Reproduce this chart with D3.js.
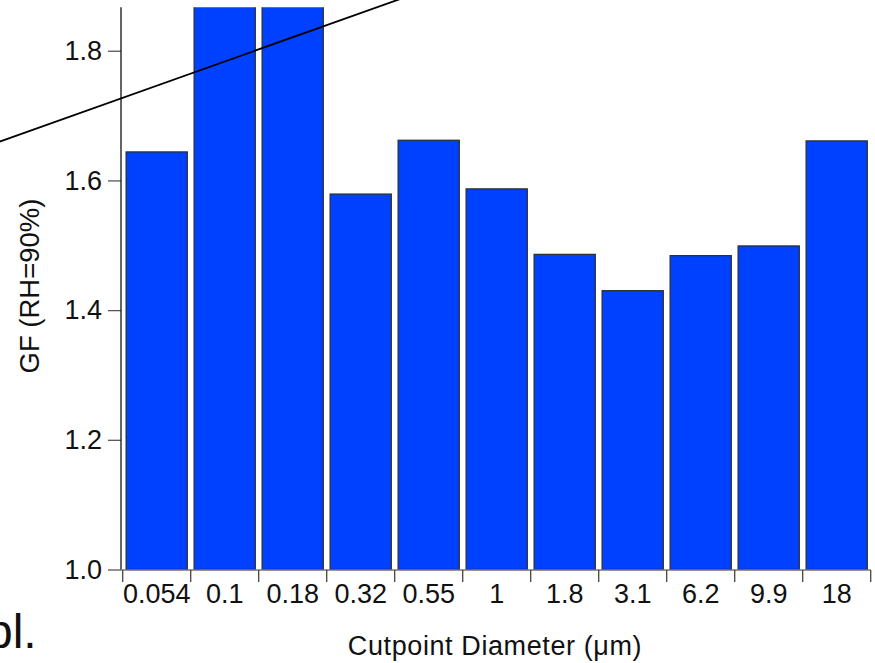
<!DOCTYPE html>
<html>
<head>
<meta charset="utf-8">
<script src="https://cdn.jsdelivr.net/npm/d3@7"></script>
<style>
  html, body { margin: 0; padding: 0; background: #fff; }
  svg { display: block; }
  text { font-family: "Liberation Sans", Arial, sans-serif; fill: #111; }
</style>
</head>
<body>
<svg id="chart" width="875" height="663"></svg>
<script>
// Cutpoint diameters (µm) of the impactor stages
const categories = ["0.054", "0.1", "0.18", "0.32", "0.55", "1", "1.8", "3.1", "6.2", "9.9", "18"];
// Growth factor at RH = 90% for each stage
const gfValues = [1.644, 1.95, 1.93, 1.579, 1.662, 1.587, 1.486, 1.430, 1.484, 1.499, 1.661];
// Y tick values
const yTicks = [1.0, 1.2, 1.4, 1.6, 1.8];
// Straight guide line crossing the panel (position in stage units, GF value)
const guideLine = [
  { pos: -2.6, value: 1.649 },
  { pos: 3.8, value: 1.888 }
];

const svg = d3.select("#chart");

const xLeft = 122.7, xRight = 870.7;
const yBottom = 569.5, yTopPx = 7.3;
const axisX = 121;

const x = d3.scaleBand()
  .domain(categories)
  .range([xLeft, xRight])
  .paddingInner(0.1)
  .paddingOuter(0.05);

const y = d3.scaleLinear()
  .domain([1.0, 1.867])
  .range([yBottom, yTopPx]);

// continuous position along the category axis (0 = centre of first band)
const xPos = d3.scaleLinear()
  .domain([0, 1])
  .range([x(categories[0]) + x.bandwidth() / 2, x(categories[1]) + x.bandwidth() / 2]);

// clip for bars that run past the top of the value axis
svg.append("defs").append("clipPath").attr("id", "plotClip")
  .append("rect")
  .attr("x", axisX).attr("y", yTopPx)
  .attr("width", xRight - axisX + 2).attr("height", yBottom - yTopPx + 1);

// bars
svg.append("g").attr("clip-path", "url(#plotClip)")
  .selectAll("rect")
  .data(categories.map((c, i) => ({ cat: c, v: gfValues[i] })))
  .join("rect")
  .attr("x", d => x(d.cat))
  .attr("y", d => y(d.v))
  .attr("width", x.bandwidth())
  .attr("height", d => y(1.0) - y(d.v))
  .attr("fill", "#0040ff")
  .attr("stroke", "#2b2b2b")
  .attr("stroke-width", 1.2);

// y axis
const yAxis = d3.axisLeft(y)
  .tickValues(yTicks)
  .tickFormat(d3.format(".1f"))
  .tickSize(13)
  .tickPadding(6);
const gy = svg.append("g")
  .attr("transform", `translate(${axisX},0)`)
  .call(yAxis);
gy.select(".domain").remove();
gy.append("line")
  .attr("x1", 0).attr("x2", 0)
  .attr("y1", yTopPx).attr("y2", yBottom)
  .attr("stroke", "#111").attr("stroke-width", 1.3);
gy.selectAll(".tick line").attr("stroke", "#555").attr("stroke-width", 1.3);
gy.selectAll(".tick text")
  .style("font-family", '"Liberation Sans", Arial, sans-serif')
  .style("font-size", "27px")
  .attr("fill", "#111");

// x axis: ticks on band boundaries, labels centred in each band
const step = x.step();
const boundaries = categories.map(c => x(c) - step * x.paddingInner() / 2)
  .concat([x(categories[categories.length - 1]) + x.bandwidth() + step * x.paddingInner() / 2]);
const gx = svg.append("g");
gx.append("line")
  .attr("x1", axisX).attr("x2", xRight)
  .attr("y1", yBottom + 0.5).attr("y2", yBottom + 0.5)
  .attr("stroke", "#777").attr("stroke-width", 1.3);
gx.selectAll("line.tk")
  .data(boundaries)
  .join("line")
  .attr("class", "tk")
  .attr("x1", d => d).attr("x2", d => d)
  .attr("y1", yBottom + 0.5).attr("y2", yBottom + 12.5)
  .attr("stroke", "#444").attr("stroke-width", 1.3);
gx.selectAll("text")
  .data(categories)
  .join("text")
  .attr("x", d => x(d) + x.bandwidth() / 2)
  .attr("y", 602.5)
  .attr("text-anchor", "middle")
  .style("font-size", "27px")
  .text(d => d);

// axis titles
svg.append("text")
  .attr("x", 495)
  .attr("y", 655)
  .attr("text-anchor", "middle")
  .style("font-size", "27px")
  .style("letter-spacing", "0.6px")
  .text("Cutpoint Diameter (\u03bcm)");

svg.append("text")
  .attr("transform", "translate(39,286) rotate(-90)")
  .attr("text-anchor", "middle")
  .style("font-size", "27.5px")
  .text("GF (RH=90%)");

// guide line
svg.append("path")
  .datum(guideLine)
  .attr("d", d3.line().x(d => xPos(d.pos)).y(d => y(d.value)))
  .attr("fill", "none")
  .attr("stroke", "#000")
  .attr("stroke-width", 1.8);

// fragment of caption text at the lower left
svg.append("text")
  .attr("x", -14)
  .attr("y", 648)
  .style("font-size", "48px")
  .text("bl.");
</script>
</body>
</html>
